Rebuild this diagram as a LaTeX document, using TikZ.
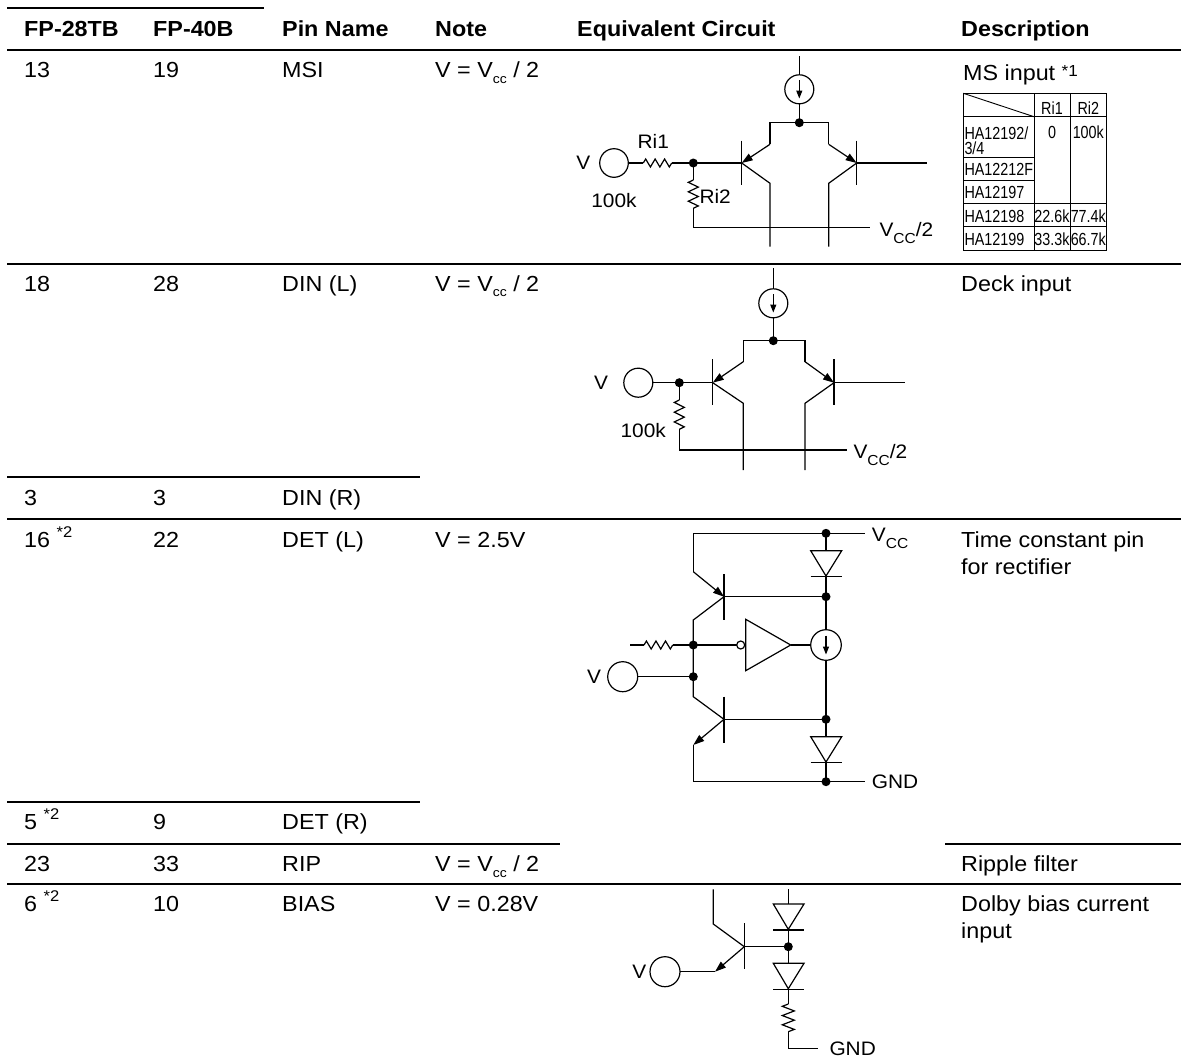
\documentclass[tikz,border=0pt]{standalone}
\usepackage{fontspec}
\setmainfont{Liberation Sans}[FakeStretch=1.07]
\newfontfamily\narrowfont{Liberation Sans}[FakeStretch=0.82]
\usetikzlibrary{arrows.meta}
\newcommand\Vcc{V\raisebox{-5.5pt}{\fontsize{13}{13}\selectfont cc}}
\newcommand\VCC{V\raisebox{-7pt}{\fontsize{14.5}{14.5}\selectfont CC}}
\newcommand\startwo{\raisebox{10pt}{\fontsize{15.5}{15.5}\selectfont *2}}
\newcommand\zigH[4]{\draw[wire] (#1,#3) \foreach \k/\s in {1/-1,3/1,5/-1,7/1,9/-1,11/1} { -- ({#1+(#2-#1)*\k/12},{#3+\s*#4}) } -- (#2,#3);}
\newcommand\zigV[4]{\draw[wire] (#3,#1) \foreach \k/\s in {1/-1,3/1,5/-1,7/1,9/-1,11/1} { -- ({#3+\s*#4},{#1+(#2-#1)*\k/12}) } -- (#3,#2);}
\tikzset{
  rule/.style={line width=2.6pt},
  wire/.style={line width=1.2pt},
  arr/.style={wire,-{Triangle[length=11pt,width=7.5pt]}},
  carr/.style={wire,-{Triangle[length=8pt,width=6pt]}},
  cell/.style={inner sep=0pt, anchor=base west, font=\fontsize{21.8}{26}\selectfont},
  hdr/.style={inner sep=0pt, anchor=base west, font=\fontsize{21.8}{26}\selectfont\bfseries},
  lbl/.style={inner sep=0pt, font=\fontsize{19.5}{22}\selectfont},
  tbl/.style={inner sep=0pt, font=\narrowfont\fontsize{17.5}{19}\selectfont},
  jdot/.style={circle, fill=black, inner sep=0pt, minimum size=9pt},
  thin/.style={line width=0.9pt}
}
\begin{document}
\begin{tikzpicture}[x=1pt,y=-1pt]
\useasboundingbox (0,0) rectangle (1181,1063);
\fill[white] (0,0) rectangle (1181,1063);
% ---------- table rules ----------
\draw[rule] (7,8) -- (264,8);
\draw[rule] (7,50) -- (1181,50);
\draw[rule] (7,264) -- (1181,264);
\draw[rule] (7,477) -- (420,477);
\draw[rule] (7,519) -- (1181,519);
\draw[rule] (7,802) -- (420,802);
\draw[rule] (7,844) -- (560,844);
\draw[rule] (945,844) -- (1181,844);
\draw[rule] (7,884) -- (1181,884);
% ---------- header ----------
\node[hdr] (h1) at (24,36) {FP-28TB};
\node[hdr] (h2) at (153,36) {FP-40B};
\node[hdr] (h3) at (282,36) {Pin Name};
\node[hdr] (h4) at (435,36) {Note};
\node[hdr] (h5) at (577,36) {Equivalent Circuit};
\node[hdr] (h6) at (961,36) {Description};
% ---------- rows ----------
\node[cell] (a1) at (24,77.5) {13};
\node[cell] (b1) at (153,77.5) {19};
\node[cell] (c1) at (282,77.5) {MSI};
\node[cell] (d1) at (435,77.5) {V = \Vcc{} / 2};
\node[cell] (e1) at (963,80) {MS input \raisebox{4pt}{\fontsize{16}{16}\selectfont *1}};
\node[cell] (a2) at (24,291) {18};
\node[cell] (b2) at (153,291) {28};
\node[cell] (c2) at (282,291) {DIN (L)};
\node[cell] (d2) at (435,291) {V = \Vcc{} / 2};
\node[cell] (e2) at (961,291) {Deck input};
\node[cell] (a3) at (24,505) {3};
\node[cell] (b3) at (153,505) {3};
\node[cell] (c3) at (282,505) {DIN (R)};
\node[cell] (a4) at (24,547) {16 \startwo};
\node[cell] (b4) at (153,547) {22};
\node[cell] (c4) at (282,547) {DET (L)};
\node[cell] (d4) at (435,547) {V = 2.5V};
\node[cell] (e4) at (961,547) {Time constant pin};
\node[cell] (e4b) at (961,574) {for rectifier};
\node[cell] (a5) at (24,829.5) {5 \startwo};
\node[cell] (b5) at (153,829.5) {9};
\node[cell] (c5) at (282,829.5) {DET (R)};
\node[cell] (a6) at (24,871.5) {23};
\node[cell] (b6) at (153,871.5) {33};
\node[cell] (c6) at (282,871.5) {RIP};
\node[cell] (d6) at (435,871.5) {V = \Vcc{} / 2};
\node[cell] (e6) at (961,871.5) {Ripple filter};
\node[cell] (a7) at (24,911.5) {6 \startwo};
\node[cell] (b7) at (153,911.5) {10};
\node[cell] (c7) at (282,911.5) {BIAS};
\node[cell] (d7) at (435,911.5) {V = 0.28V};
\node[cell] (e7) at (961,911.5) {Dolby bias current};
\node[cell] (e7b) at (961,938.5) {input};
% ---------- small table (MS input) ----------
\draw[thin] (963.3,93.3) rectangle (1106.7,250);
\draw[thin] (1034,93.3) -- (1034,250);
\draw[thin] (1070,93.3) -- (1070,250);
\draw[thin] (963.3,116.7) -- (1106.7,116.7);
\draw[thin] (963.3,157.3) -- (1034,157.3);
\draw[thin] (963.3,180.7) -- (1034,180.7);
\draw[thin] (963.3,203.3) -- (1106.7,203.3);
\draw[thin] (963.3,226.7) -- (1106.7,226.7);
\draw[thin] (963.3,93.3) -- (1034,116.7);
\node[tbl,anchor=base] (t01) at (1052,114) {Ri1};
\node[tbl,anchor=base] (t02) at (1088.3,114) {Ri2};
\node[tbl,anchor=base west] (t10) at (964.3,139.3) {HA12192/};
\node[tbl,anchor=base west] (t10b) at (964.3,154.8) {3/4};
\node[tbl,anchor=base] (t11) at (1052,138.5) {0};
\node[tbl,anchor=base] (t12) at (1088.3,138.5) {100k};
\node[tbl,anchor=base west] (t20) at (964.3,175.5) {HA12212F};
\node[tbl,anchor=base west] (t30) at (964.3,198.9) {HA12197};
\node[tbl,anchor=base west] (t40) at (964.3,222) {HA12198};
\node[tbl,anchor=base] (t41) at (1052,222) {22.6k};
\node[tbl,anchor=base] (t42) at (1088.3,222) {77.4k};
\node[tbl,anchor=base west] (t50) at (964.3,245.5) {HA12199};
\node[tbl,anchor=base] (t51) at (1052,245.5) {33.3k};
\node[tbl,anchor=base] (t52) at (1088.3,245.5) {66.7k};
% ---------- circuit 1 : MSI ----------
\draw[wire] (799.3,89.3) circle[radius=14.5pt];
\draw[carr] (799.3,80) -- (799.3,98.5);
\draw[wire] (799.3,56) -- (799.3,74.8);
\draw[wire] (799.3,103.8) -- (799.3,122.7);
\draw[wire] (770,144.3) -- (770,122.7) -- (828.7,122.7) -- (828.7,144.3);
\node[jdot] (m1) at (799.3,122.7) {};
\draw[arr] (770,144.3) -- (741.7,163);
\draw[wire] (741.7,140.7) -- (741.7,185);
\draw[wire] (741.7,163) -- (770,183.3) -- (770,246.7);
\draw[arr] (828.7,144.3) -- (856.7,163);
\draw[wire] (856.7,140.7) -- (856.7,185);
\draw[wire] (856.7,163) -- (828.7,183.3) -- (828.7,246.7);
\draw[wire] (856.7,163) -- (926.7,163);
\draw[wire] (614,163) circle[radius=14.3pt];
\draw[wire] (628.3,163) -- (643.3,163);
\zigH{643.3}{671.7}{163}{4}
\draw[wire] (671.7,163) -- (741.7,163);
\node[jdot] (m2) at (693.3,163) {};
\draw[wire] (693.3,163) -- (693.3,180);
\zigV{180}{208.3}{693.3}{5}
\draw[wire] (693.3,208.3) -- (693.3,227.7) -- (870,227.7);
\node[lbl] (mv) at (583.3,163) {V};
\node[lbl] (mr1) at (653.3,141.7) {Ri1};
\node[lbl] (mk) at (614,200.7) {100k};
\node[lbl,anchor=west] (mr2) at (699.3,196.7) {Ri2};
\node[lbl,anchor=base west] (mvc) at (879.3,236) {\VCC/2};
% ---------- circuit 2 : DIN ----------
\draw[wire] (773.3,303.3) circle[radius=14.5pt];
\draw[carr] (773.3,294) -- (773.3,312.5);
\draw[wire] (773.3,268) -- (773.3,288.8);
\draw[wire] (773.3,317.8) -- (773.3,340.7);
\draw[wire] (743.3,361.7) -- (743.3,340.7) -- (805,340.7) -- (805,361.7);
\node[jdot] (d1n) at (773.3,340.7) {};
\draw[arr] (743.3,361.7) -- (712.7,382.7);
\draw[wire] (712.7,359.3) -- (712.7,405);
\draw[wire] (712.7,382.7) -- (743.3,403.3) -- (743.3,470);
\draw[arr] (805,361.7) -- (834,382.7);
\draw[wire] (834,359.3) -- (834,405);
\draw[wire] (834,382.7) -- (805,403.3) -- (805,470);
\draw[wire] (834,382.7) -- (905,382.7);
\draw[wire] (638.3,382.7) circle[radius=14.5pt];
\draw[wire] (652.8,382.7) -- (712.7,382.7);
\node[jdot] (d2n) at (679.3,382.7) {};
\draw[wire] (679.3,382.7) -- (679.3,400);
\zigV{400}{429.3}{679.3}{5}
\draw[wire] (679.3,429.3) -- (679.3,450) -- (846.7,450);
\node[lbl] (dv) at (601,383) {V};
\node[lbl,anchor=east] (dk) at (666,430.7) {100k};
\node[lbl,anchor=base west] (dvc) at (853.3,458) {\VCC/2};
% ---------- circuit 3 : DET ----------
\draw[wire] (693.3,571.7) -- (693.3,533.3) -- (865,533.3);
\node[jdot] (e1n) at (826,533.3) {};
\draw[wire] (826,533.3) -- (826,550.7);
\draw[wire] (810.7,550.7) -- (841.7,550.7) -- (826,576) -- cycle;
\draw[wire] (810.7,576.7) -- (841.7,576.7);
\draw[wire] (826,576.7) -- (826,629.7);
\node[jdot] (e2n) at (826,596.7) {};
\draw[wire] (826,645) circle[radius=15.3pt];
\draw[carr] (826,635.5) -- (826,654.5);
\draw[wire] (826,660.3) -- (826,736.7);
\node[jdot] (e3n) at (826,719.3) {};
\draw[wire] (810.7,736.7) -- (841.7,736.7) -- (826,762) -- cycle;
\draw[wire] (810.7,762.7) -- (841.7,762.7);
\draw[wire] (826,762.7) -- (826,781.7);
\draw[wire] (693.3,745) -- (693.3,781.7) -- (865,781.7);
\node[jdot] (e4n) at (826,781.7) {};
\draw[arr] (693.3,571.7) -- (724,596.7);
\draw[wire] (724,574) -- (724,620);
\draw[wire] (724,596.7) -- (826,596.7);
\draw[wire] (724,596.7) -- (693.3,620) -- (693.3,696.7) -- (724,719.3);
\draw[wire] (724,696.7) -- (724,743.3);
\draw[arr] (724,719.3) -- (693.3,745);
\draw[wire] (724,719.3) -- (826,719.3);
\node[jdot] (e5n) at (693.3,645) {};
\node[jdot] (e6n) at (693.3,676.7) {};
\draw[wire] (745.7,619.3) -- (745.7,670.7) -- (790.7,645) -- cycle;
\draw[wire] (693.3,645) -- (736.7,645);
\draw[wire,fill=white] (740.7,645) circle[radius=4pt];
\draw[wire] (790.7,645) -- (810.7,645);
\draw[wire] (630,645) -- (644,645);
\zigH{644}{672.7}{645}{4}
\draw[wire] (672.7,645) -- (693.3,645);
\draw[wire] (622.7,676.7) circle[radius=15pt];
\draw[wire] (637.7,676.7) -- (693.3,676.7);
\node[lbl] (ev) at (594,677) {V};
\node[lbl,anchor=base west] (evc) at (871.7,541.7) {\VCC};
\node[lbl,anchor=west] (eg) at (871.7,781.7) {GND};
% ---------- circuit 4 : BIAS ----------
\draw[wire] (713.3,889.3) -- (713.3,924) -- (744.3,946.7);
\draw[wire] (744.3,923.3) -- (744.3,969.3);
\draw[arr] (744.3,946.7) -- (715,971.7);
\draw[wire] (715,971.7) -- (680,971.7);
\draw[wire] (665,971.7) circle[radius=15pt];
\draw[wire] (744.3,946.7) -- (788.3,946.7);
\node[jdot] (f1n) at (788.3,946.7) {};
\draw[wire] (788.3,889.3) -- (788.3,904);
\draw[wire] (773.3,904) -- (804,904) -- (788.3,929.3) -- cycle;
\draw[wire] (773.3,930) -- (804,930);
\draw[wire] (788.3,930) -- (788.3,963.3);
\draw[wire] (773.3,963.3) -- (804,963.3) -- (788.3,988.7) -- cycle;
\draw[wire] (773.3,989.3) -- (804,989.3);
\draw[wire] (788.3,989.3) -- (788.3,1004);
\zigV{1004}{1031.7}{788.3}{6}
\draw[wire] (788.3,1031.7) -- (788.3,1048.3) -- (818.3,1048.3);
\node[lbl] (fv) at (639.3,972) {V};
\node[lbl,anchor=west] (fg) at (829.3,1048.3) {GND};
\end{tikzpicture}
\end{document}
